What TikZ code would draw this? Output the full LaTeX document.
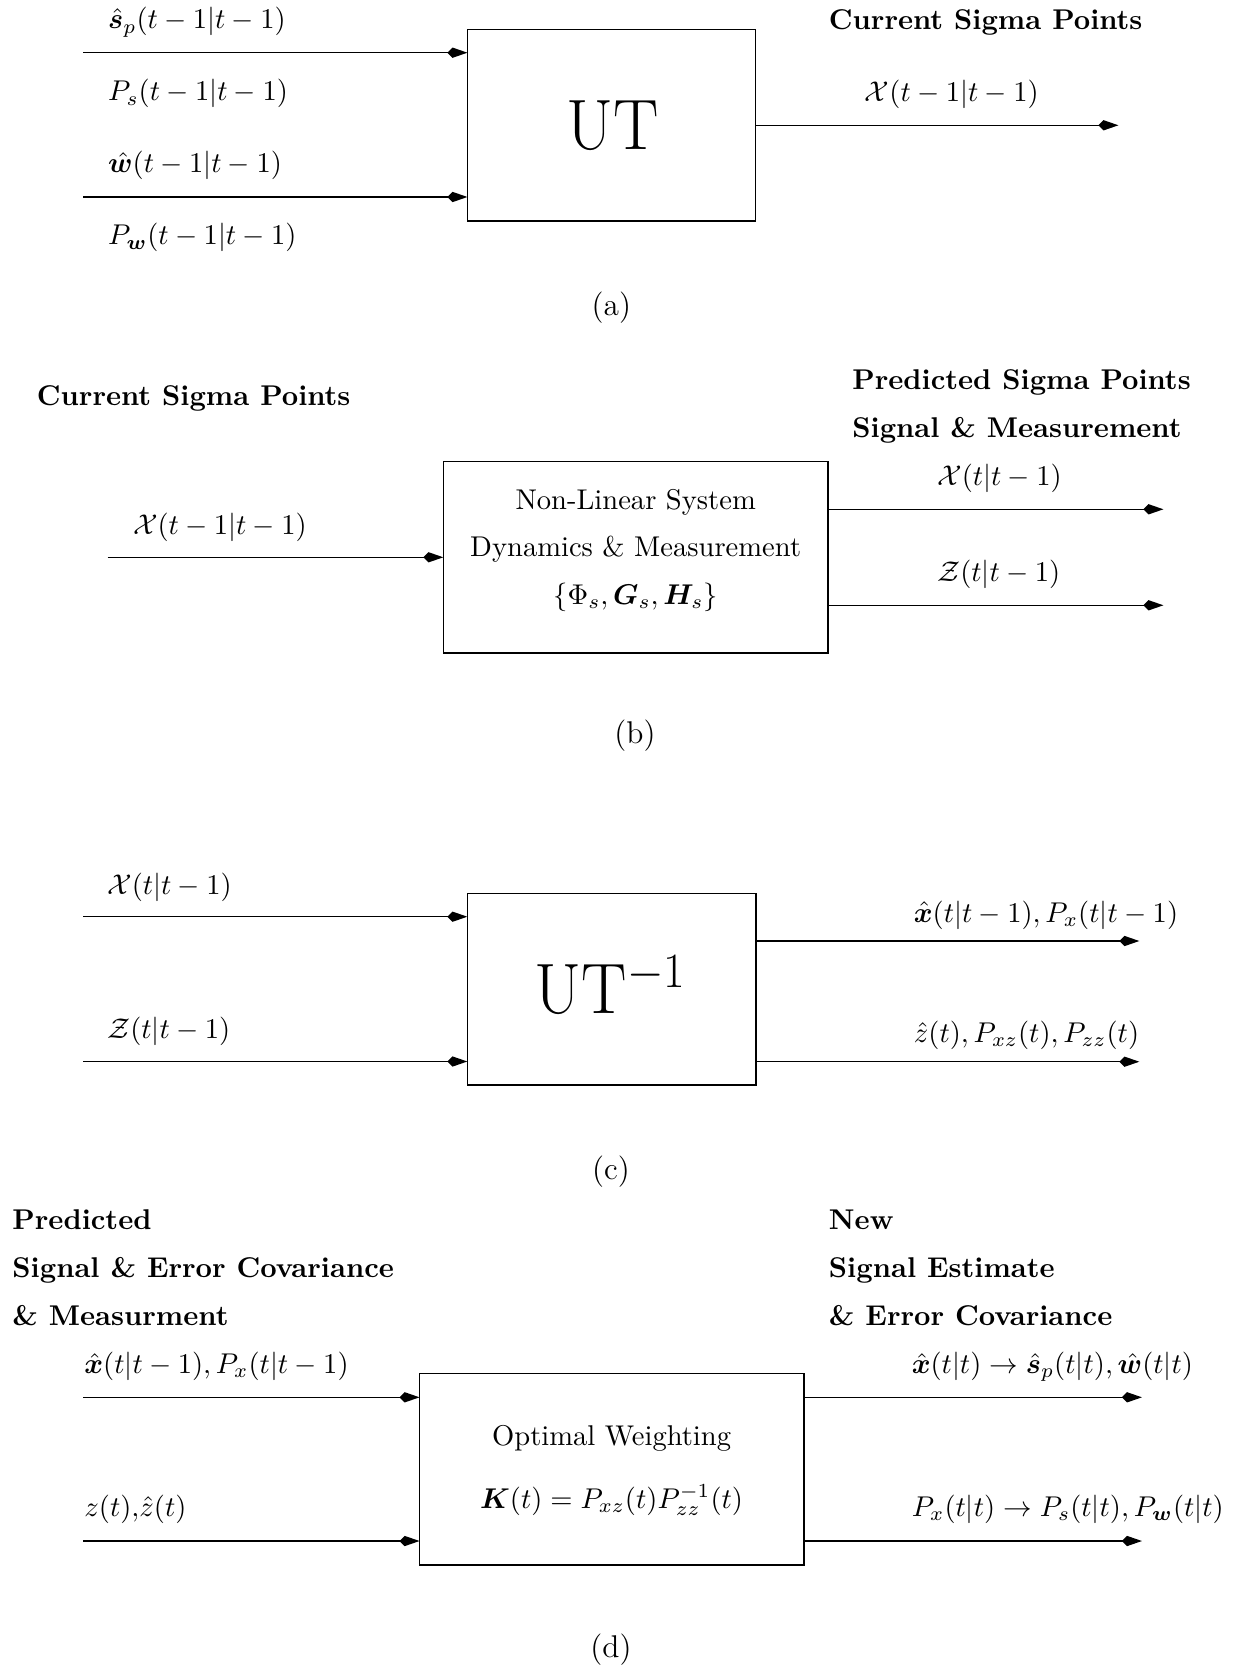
\documentclass[tikz,border=0pt]{standalone}
\usepackage{amsmath}
\usepackage{bm}
\usetikzlibrary{arrows.meta}

\tikzset{
  blk/.style={draw, line width=0.55pt, inner sep=0pt, outer sep=0pt},
  flow/.style={line width=0.5pt, -{Kite[length=7pt,width=3.6pt,inset=1.8pt]}},
  lbl/.style={inner sep=0pt, anchor=base west},
  ctr/.style={inner sep=0pt, anchor=base},
  head/.style={inner sep=0pt, anchor=base west, font=\bfseries},
  big/.style={inner sep=0pt, xscale=0.95, font=\fontsize{25}{30}\selectfont},
  captxt/.style={inner sep=0pt, anchor=base, font=\fontsize{11}{13}\selectfont},
}
\newcommand{\pxl}[1]{#1*0.35pt}

\begin{document}
\begin{tikzpicture}[x=0.35pt, y=-0.35pt]
\useasboundingbox (0,0) rectangle (1233,1665);
\clip (0,0) rectangle (1233,1665);

% ---------------- (a) unscented transform ----------------
\node[blk, minimum width={\pxl{288.3}}, minimum height={\pxl{191.7}}] (boxA) at (611.55,125.15) {};
\node[big, anchor=base] (utA) at (612.3,150) {UT};
\coordinate (aIn1) at (83.4,52.7);
\coordinate (aIn2) at (83.4,197);
\coordinate (aOut) at (1118.4,125.3);
\draw[flow] (aIn1) -- (aIn1 -| boxA.west);
\draw[flow] (aIn2) -- (aIn2 -| boxA.west);
\draw[flow] (aOut -| boxA.east) -- (aOut);
\node[lbl] (aL1) at (107.6,28.8) {$\hat{\bm{s}}_p(t-1|t-1)$};
\node[lbl] (aL2) at (107.6,100.8) {$P_s(t-1|t-1)$};
\node[lbl] (aL3) at (107.6,173) {$\hat{\bm{w}}(t-1|t-1)$};
\node[lbl] (aL4) at (107.6,245) {$P_{\bm{w}}(t-1|t-1)$};
\node[head] (aH) at (828.4,29.5) {Current Sigma Points};
\node[lbl] (aL5) at (864.3,102) {$\mathcal{X}(t-1|t-1)$};
\node[captxt] (capA) at (611.3,316) {(a)};

% ---------------- (b) propagation through the model ----------------
\node[blk, minimum width={\pxl{384.7}}, minimum height={\pxl{191.7}}] (boxB) at (635.65,557.15) {};
\node[ctr] (bT1) at (635.65,509.3) {Non-Linear System};
\node[ctr] (bT2) at (635.65,556.7) {Dynamics \& Measurement};
\node[ctr] (bT3) at (635.65,604.5) {$\{\Phi_s,\bm{G}_s,\bm{H}_s\}$};
\coordinate (bIn) at (107.6,557.3);
\coordinate (bOut1) at (1163.4,509.3);
\coordinate (bOut2) at (1163.4,605.3);
\draw[flow] (bIn) -- (bIn -| boxB.west);
\draw[flow] (bOut1 -| boxB.east) -- (bOut1);
\draw[flow] (bOut2 -| boxB.east) -- (bOut2);
\node[head] (bH1) at (36.4,406) {Current Sigma Points};
\node[lbl] (bL1) at (132.5,534.5) {$\mathcal{X}(t-1|t-1)$};
\node[head] (bH2) at (851.8,389.3) {Predicted Sigma Points};
\node[head] (bH3) at (851.8,437.3) {Signal \& Measurement};
\node[lbl] (bL2) at (936.7,485.5) {$\mathcal{X}(t|t-1)$};
\node[lbl] (bL3) at (936.7,581) {$\mathcal{Z}(t|t-1)$};
\node[captxt] (capB) at (635,743) {(b)};

% ---------------- (c) inverse transform ----------------
\node[blk, minimum width={\pxl{288.7}}, minimum height={\pxl{191.7}}] (boxC) at (611.65,989.15) {};
\node[big, anchor=base] (utC) at (610.7,1013.3) {UT$^{-1}$};
\coordinate (cIn1) at (83.3,916.7);
\coordinate (cIn2) at (83.3,1061.5);
\coordinate (cOut1) at (1139.3,941);
\coordinate (cOut2) at (1139.3,1061.7);
\draw[flow] (cIn1) -- (cIn1 -| boxC.west);
\draw[flow] (cIn2) -- (cIn2 -| boxC.west);
\draw[flow] (cOut1 -| boxC.east) -- (cOut1);
\draw[flow] (cOut2 -| boxC.east) -- (cOut2);
\node[lbl] (cL1) at (106.7,894.5) {$\mathcal{X}(t|t-1)$};
\node[lbl] (cL2) at (106.7,1038.7) {$\mathcal{Z}(t|t-1)$};
\node[lbl] (cL3) at (913.3,922) {$\hat{\bm{x}}(t|t-1),P_x(t|t-1)$};
\node[lbl] (cL4) at (913.3,1042) {$\hat{z}(t),P_{xz}(t),P_{zz}(t)$};
\node[captxt] (capC) at (611,1179.5) {(c)};

% ---------------- (d) measurement update ----------------
\node[blk, minimum width={\pxl{384.2}}, minimum height={\pxl{191.7}}] (boxD) at (611.6,1469.15) {};
\node[ctr] (dT1) at (611.6,1445) {Optimal Weighting};
\node[ctr] (dT2) at (611.6,1508) {$\bm{K}(t)=P_{xz}(t)P_{zz}^{-1}(t)$};
\coordinate (dIn1) at (83.4,1397.3);
\coordinate (dIn2) at (83.4,1541);
\coordinate (dOut1) at (1141.9,1397.3);
\coordinate (dOut2) at (1141.9,1541);
\draw[flow] (dIn1) -- (dIn1 -| boxD.west);
\draw[flow] (dIn2) -- (dIn2 -| boxD.west);
\draw[flow] (dOut1 -| boxD.east) -- (dOut1);
\draw[flow] (dOut2 -| boxD.east) -- (dOut2);
\node[head] (dH1) at (11.9,1229.3) {Predicted};
\node[head] (dH2) at (11.9,1277.3) {Signal \& Error Covariance};
\node[head] (dH3) at (11.9,1325.7) {\& Measurment};
\node[lbl] (dL1) at (83.8,1373.7) {$\hat{\bm{x}}(t|t-1),P_x(t|t-1)$};
\node[lbl] (dL2) at (83.8,1516) {$z(t){,}\hat{z}(t)$};
\node[head] (dH4) at (828.4,1229.3) {New};
\node[head] (dH5) at (828.4,1277.3) {Signal Estimate};
\node[head] (dH6) at (828.4,1325.7) {\& Error Covariance};
\node[lbl] (dL3) at (911.2,1373.7) {$\hat{\bm{x}}(t|t)\rightarrow\hat{\bm{s}}_p(t|t),\hat{\bm{w}}(t|t)$};
\node[lbl] (dL4) at (911.2,1516) {$P_x(t|t)\rightarrow P_s(t|t),P_{\bm{w}}(t|t)$};
\node[captxt] (capD) at (611,1657) {(d)};
\end{tikzpicture}
\end{document}
